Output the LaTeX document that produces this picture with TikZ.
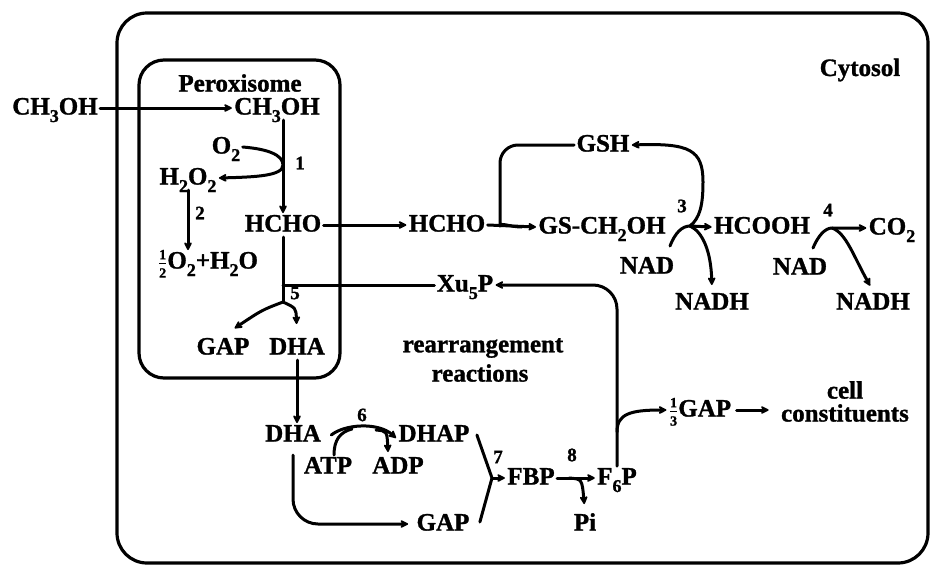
\documentclass[tikz,border=0pt]{standalone}
\usepackage{fontspec}
\setmainfont{Liberation Serif}[BoldFeatures={FakeBold=1.2}]
\usetikzlibrary{arrows.meta,calc}
\newcommand\sbs[1]{\raisebox{-0.3em}{\fontsize{18}{18}\selectfont #1}}
\newcommand\hfr[2]{\raisebox{-0.02em}{$\frac{\mbox{\fontsize{14}{14}\selectfont\bfseries #1}}{\mbox{\fontsize{14}{14}\selectfont\bfseries #2}}$}}
\begin{document}
\begin{tikzpicture}[x=1pt,y=-1pt, line width=3pt, line cap=round, line join=round,
  chem/.style={font=\fontsize{25}{28}\selectfont\bfseries, inner sep=1pt, text height=16pt, text depth=3pt},
  lbl/.style={font=\fontsize{25}{27}\selectfont\bfseries, inner sep=1pt},
  num/.style={font=\fontsize{19}{19}\selectfont\bfseries, inner sep=0pt},
  arr/.style={-{Stealth[length=10pt,width=10pt,round]}},
  boxed/.style={draw, line width=3.2pt}]
\fill[white] (0,0) rectangle (935,571);
\useasboundingbox (0,0) rectangle (935,571);

% compartments
\draw[boxed, rounded corners=30pt] (117,13) rectangle (928,563);
\draw[boxed, rounded corners=25pt] (139,60) rectangle (340,378);

% labels
\node[lbl] (perox) at (240,83) {Peroxisome};
\node[lbl] (cyto) at (860,70) {Cytosol};

% peroxisome
\node[chem] (ch3ohL) at (55,108) {CH\sbs{3}OH};
\node[chem] (ch3ohP) at (277,108) {CH\sbs{3}OH};
\node[chem] (o2) at (226,147) {O\sbs{2}};
\node[chem] (h2o2) at (188,178) {H\sbs{2}O\sbs{2}};
\node[num] (n1) at (300,163) {1};
\node[num] (n2) at (200,213) {2};
\node[chem] (hchoP) at (283,225) {HCHO};
\node[chem] (half) at (208,262) {\hfr{1}{2}O\sbs{2}+H\sbs{2}O};
\node[num] (n5) at (295,293) {5};
\node[chem] (gapP) at (223,348) {GAP};
\node[chem] (dhaP) at (297,348) {DHA};

% cytosol, top
\node[chem] (hchoC) at (447,225) {HCHO};
\node[chem] (gsh) at (603,145) {GSH};
\node[chem] (gsch) at (602,227) {GS-CH\sbs{2}OH};
\node[num] (n3) at (682,206) {3};
\node[chem] (hcooh) at (762,227) {HCOOH};
\node[num] (n4) at (828,210) {4};
\node[chem] (co2) at (892,228) {CO\sbs{2}};
\node[chem] (nad1) at (647,267) {NAD};
\node[chem] (nadh1) at (712,303) {NADH};
\node[chem] (nad2) at (800,268) {NAD};
\node[chem] (nadh2) at (873,303) {NADH};
\node[chem] (xu5p) at (465,285) {Xu\sbs{5}P};
\node[lbl] (rear) at (483,348) {rearrangement};
\node[lbl] (reac) at (480,373) {reactions};

% cytosol, bottom
\node[chem] (dhaC) at (293,435) {DHA};
\node[num] (n6) at (362,415) {6};
\node[chem] (dhap) at (434,435) {DHAP};
\node[chem] (atp) at (328,467) {ATP};
\node[chem] (adp) at (398,467) {ADP};
\node[chem] (gapC) at (443,524) {GAP};
\node[num] (n7) at (498,457) {7};
\node[chem] (fbp) at (531,478) {FBP};
\node[num] (n8) at (572,455) {8};
\node[chem] (f6p) at (617,478) {F\sbs{6}P};
\node[chem] (pi) at (585,524) {Pi};
\node[chem] (gap3) at (700,410) {\hfr{1}{3}GAP};
\node[lbl] (cell) at (845,390) {cell};
\node[lbl] (const) at (845,413) {constituents};

% junction coordinates
\coordinate (b5) at (283,302);
\coordinate (j3) at (690,226);
\coordinate (s3) at (670,246);
\coordinate (j4) at (832,228);
\coordinate (s4) at (813,248);
\coordinate (j6) at (352,429);
\coordinate (j7) at (492,478);
\coordinate (j8) at (569,478);
\coordinate (bg) at (617,432);

% connectors: peroxisome
\draw[arr] (ch3ohL.east) -- (ch3ohP.west);
\draw[arr] (ch3ohP.south -| hchoP.north) -- (hchoP.north);
\draw[arr] (o2.east) .. controls (268,149) and (283,155) .. (283,165)
  .. controls (283,176) and (255,177) .. (h2o2.east);
\draw[arr] (h2o2.south) -- (h2o2.south |- half.north);
\draw[arr] (hchoP.east) -- (hchoC.west);
\draw (hchoP.south) -- (b5);
\draw (xu5p.west) -- (xu5p.west -| b5);
\draw[arr, shorten >=14pt] (b5) .. controls (262,310) .. (gapP.north);
\draw[arr, shorten >=12pt] (b5) .. controls (296,308) .. (dhaP.north);
\draw[arr] (dhaP.south) -- (dhaP.south |- dhaC.north);

% connectors: glutathione cycle
\draw[arr] (hchoC.east) -- (gsch.west);
\draw[rounded corners=18pt] (gsh.west) -- (500,145) -- (500,208) .. controls (500,222) and (510,227) .. (522,227);
\draw[arr] (s3) .. controls (675,233) and (682,226) .. (j3) -- (hcooh.west);
\draw[arr] (j3) .. controls (700,218) and (703,205) .. (703,182)
  .. controls (703,150) and (690,143) .. (gsh.east);
\draw[arr, shorten >=6pt] (j3) .. controls (703,232) and (711,252) .. (nadh1.north);
\draw[arr] (s4) .. controls (818,236) and (825,228) .. (j4) -- (co2.west);
\draw[arr, shorten >=6pt] (j4) .. controls (846,233) and (853,255) .. (nadh2.north);

% connectors: bottom
\draw[arr] ([xshift=8pt]dhaC.east) .. controls (345,424) and (378,422) .. ([yshift=-3pt]dhap.west);
\draw ([xshift=6pt]atp.north) .. controls (334,440) and (340,432) .. (j6);
\draw[arr] (376,430) .. controls (387,431) .. (388,452);
\draw[arr, rounded corners=25pt, shorten <=8pt, shorten >=6pt] (dhaC.south) -- (dhaC.south |- gapC.west) -- (gapC.west);
\draw ([xshift=5pt]dhap.east) -- (j7) -- ([xshift=8pt,yshift=2pt]gapC.east);
\draw[arr] (j7) -- (fbp.west);
\draw[arr] (fbp.east) -- (f6p.west);
\draw[arr, shorten >=8pt] (j8) .. controls (582,479) .. (pi.north);
\draw[arr, rounded corners=24pt] (f6p.north) -- (f6p.north |- xu5p.east) -- (xu5p.east);
\draw[arr] (bg) .. controls (617,414) and (630,410) .. (gap3.west);
\draw[arr, shorten <=3pt, shorten >=10pt] (gap3.east) -- (gap3.east -| const.west);
\end{tikzpicture}
\end{document}
